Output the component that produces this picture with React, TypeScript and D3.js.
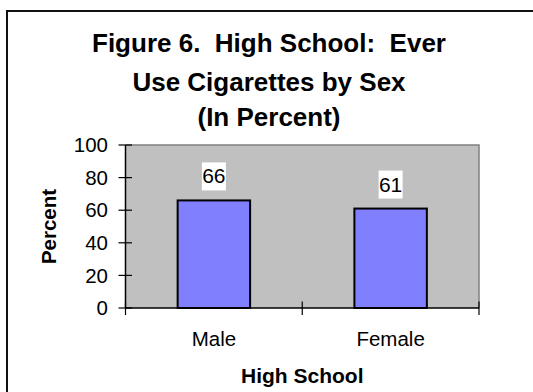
import React, { useEffect, useRef } from 'react';
import * as d3 from 'd3';

const categories = ['Male', 'Female'];
const values = [66, 61];
const yTicks = [0, 20, 40, 60, 80, 100];
const titleLines = ['Figure 6.  High School:  Ever', 'Use Cigarettes by Sex', '(In Percent)'];

const WIDTH = 533;
const HEIGHT = 392;
const FONT = '"Liberation Sans", Arial, Helvetica, sans-serif';

const App: React.FC = () => {
  const svgRef = useRef<SVGSVGElement | null>(null);

  useEffect(() => {
    if (!svgRef.current) return;
    const svg = d3.select(svgRef.current);
    svg.selectAll('*').remove();

    const plot = { left: 125.5, right: 479, top: 145, bottom: 308 };

    // outer chart frame (runs off the right and bottom of the picture)
    svg
      .append('rect')
      .attr('x', 7)
      .attr('y', 11)
      .attr('width', 600)
      .attr('height', 500)
      .attr('fill', 'white')
      .attr('stroke', '#111')
      .attr('stroke-width', 2);

    // title
    const titleY = [52, 91, 126];
    svg
      .selectAll('.title')
      .data(titleLines)
      .enter()
      .append('text')
      .attr('class', 'title')
      .attr('x', 269)
      .attr('y', (_, i) => titleY[i])
      .attr('text-anchor', 'middle')
      .style('font-family', FONT)
      .style('font-size', '26px')
      .style('font-weight', 'bold')
      .style('white-space', 'pre')
      .text(d => d);

    const xScale = d3
      .scaleBand<string>()
      .domain(categories)
      .range([plot.left, plot.right])
      .paddingInner(0.59)
      .paddingOuter(0.295);

    const yScale = d3.scaleLinear().domain([0, 100]).range([plot.bottom, plot.top]);

    // plot area
    svg
      .append('rect')
      .attr('x', plot.left)
      .attr('y', plot.top)
      .attr('width', plot.right - plot.left)
      .attr('height', plot.bottom - plot.top)
      .attr('fill', '#c0c0c0');
    svg
      .append('path')
      .attr('d', `M${plot.left},${plot.top}H${plot.right}V${plot.bottom}`)
      .attr('fill', 'none')
      .attr('stroke', '#808080')
      .attr('stroke-width', 1.5);

    // bars
    const data = categories.map((c, i) => ({ cat: c, value: values[i] }));
    svg
      .selectAll('.bar')
      .data(data)
      .enter()
      .append('rect')
      .attr('class', 'bar')
      .attr('x', d => xScale(d.cat)!)
      .attr('y', d => yScale(d.value))
      .attr('width', xScale.bandwidth())
      .attr('height', d => plot.bottom - yScale(d.value))
      .attr('fill', '#8080ff')
      .attr('stroke', '#000')
      .attr('stroke-width', 2);

    // data labels
    const labels = svg.selectAll('.dlabel').data(data).enter().append('g').attr('class', 'dlabel');
    labels
      .append('rect')
      .attr('x', d => xScale(d.cat)! + xScale.bandwidth() / 2 - 12)
      .attr('y', d => yScale(d.value) - 38)
      .attr('width', 24)
      .attr('height', 28)
      .attr('fill', 'white');
    labels
      .append('text')
      .attr('x', d => xScale(d.cat)! + xScale.bandwidth() / 2)
      .attr('y', d => yScale(d.value) - 17)
      .attr('text-anchor', 'middle')
      .style('font-family', FONT)
      .style('font-size', '21px')
      .text(d => d.value);

    // y axis
    svg
      .append('line')
      .attr('x1', plot.left)
      .attr('x2', plot.left)
      .attr('y1', plot.top)
      .attr('y2', plot.bottom)
      .attr('stroke', '#000')
      .attr('stroke-width', 1.5);
    svg
      .selectAll('.ytick')
      .data(yTicks)
      .enter()
      .append('line')
      .attr('x1', plot.left - 7)
      .attr('x2', plot.left + 6.5)
      .attr('y1', d => yScale(d))
      .attr('y2', d => yScale(d))
      .attr('stroke', '#000')
      .attr('stroke-width', 1.2);
    svg
      .selectAll('.ylabel')
      .data(yTicks)
      .enter()
      .append('text')
      .attr('x', 108)
      .attr('y', d => yScale(d))
      .attr('dy', '0.35em')
      .attr('text-anchor', 'end')
      .style('font-family', FONT)
      .style('font-size', '20.5px')
      .text(d => d);

    // x axis
    svg
      .append('line')
      .attr('x1', plot.left)
      .attr('x2', plot.right)
      .attr('y1', plot.bottom)
      .attr('y2', plot.bottom)
      .attr('stroke', '#000')
      .attr('stroke-width', 1.5);
    const step = xScale.step();
    const bounds = [plot.left, plot.left + step, plot.left + 2 * step];
    svg
      .selectAll('.xtick')
      .data(bounds)
      .enter()
      .append('line')
      .attr('x1', d => d)
      .attr('x2', d => d)
      .attr('y1', plot.bottom - 6.5)
      .attr('y2', plot.bottom + 7)
      .attr('stroke', '#000')
      .attr('stroke-width', 1.2);
    svg
      .selectAll('.xlabel')
      .data(categories)
      .enter()
      .append('text')
      .attr('x', d => xScale(d)! + xScale.bandwidth() / 2)
      .attr('y', 346)
      .attr('text-anchor', 'middle')
      .style('font-family', FONT)
      .style('font-size', '20.5px')
      .text(d => d);

    // axis titles
    svg
      .append('text')
      .attr('x', (plot.left + plot.right) / 2)
      .attr('y', 383)
      .attr('text-anchor', 'middle')
      .style('font-family', FONT)
      .style('font-size', '21px')
      .style('font-weight', 'bold')
      .text('High School');
    svg
      .append('text')
      .attr('transform', `translate(55.5,${(plot.top + plot.bottom) / 2}) rotate(-90)`)
      .attr('text-anchor', 'middle')
      .style('font-family', FONT)
      .style('font-size', '20.5px')
      .style('font-weight', 'bold')
      .text('Percent');
  }, []);

  return (
    <svg
      ref={svgRef}
      width={WIDTH}
      height={HEIGHT}
      style={{ position: 'absolute', left: 0, top: 0, background: 'white', overflow: 'hidden' }}
    />
  );
};

export default App;
